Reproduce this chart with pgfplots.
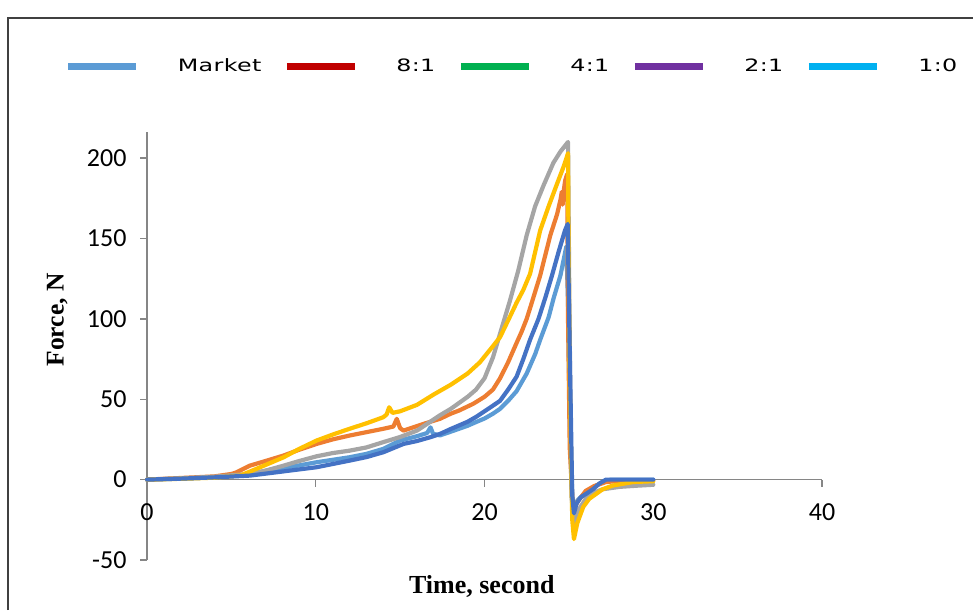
\documentclass[border=0pt]{standalone}
\usepackage{pgfplots}
\pgfplotsset{compat=1.18}
\usepackage{fontspec}
\setmainfont{Liberation Serif}
\newfontfamily\carlito{Carlito}
\newfontfamily\legfont[FakeStretch=1.4,LetterSpace=2]{DejaVu Sans}
\definecolor{cLB}{HTML}{5B9BD5}
\definecolor{cOR}{HTML}{ED7D31}
\definecolor{cGR}{HTML}{A5A5A5}
\definecolor{cYE}{HTML}{FFC000}
\definecolor{cDB}{HTML}{4472C4}
\definecolor{lRed}{HTML}{C00000}
\definecolor{lGreen}{HTML}{00B050}
\definecolor{lPurple}{HTML}{7030A0}
\definecolor{lCyan}{HTML}{00B0F0}
\definecolor{axgray}{HTML}{868686}
\begin{document}
\begin{tikzpicture}[x=1pt,y=1pt]
\path[use as bounding box] (0,0) rectangle (973,610);
\draw[line width=1.2pt, black!75] (8,0) -- (8,592) -- (973,592);
\begin{axis}[
  at={(147pt,50pt)}, anchor=south west,
  scale only axis, width=675pt, height=428pt,
  xmin=0, xmax=40, ymin=-50, ymax=216.2,
  axis x line=middle, axis y line=left,
  axis line style={-, line width=1.6pt, color=axgray},
  hide obscured x ticks=false, hide obscured y ticks=false,
  xtick={0,10,20,30,40}, ytick={-50,0,50,100,150,200},
  tick align=outside, major tick length=7pt,
  tick style={line width=1.4pt, color=axgray},
  /pgf/number format/assume math mode=true,
  tick label style={font=\carlito\fontsize{26}{30}\selectfont},
  xticklabel style={yshift=-13pt},
  yticklabel style={xshift=-10pt},
  clip=false,
  xlabel={\bfseries Time, second},
  xlabel style={at={(axis description cs:0.496,-0.063)}, anchor=center, font=\fontsize{26}{30}\selectfont},
  ylabel={\bfseries Force, N},
  ylabel style={at={(axis description cs:-0.133,0.561)}, anchor=center, font=\fontsize{25.5}{30}\selectfont},
  legend style={at={(axis description cs:-0.122,1.154)}, anchor=west, draw=none, fill=none,
    font=\legfont\fontsize{17}{20}\selectfont, inner sep=0pt,
    /tikz/every odd column/.append style={column sep=36pt},
    /tikz/every even column/.append style={column sep=20pt}},
  legend columns=5,
  legend image code/.code={\draw[#1, line cap=butt] (0pt,0pt) -- (68pt,0pt);},
  every axis plot/.append style={line width=4.2pt, line join=round, line cap=round},
]
\addlegendimage{cLB, line width=7pt}
\addlegendentry{Market}
\addlegendimage{lRed, line width=7pt}
\addlegendentry{8:1}
\addlegendimage{lGreen, line width=7pt}
\addlegendentry{4:1}
\addlegendimage{lPurple, line width=7pt}
\addlegendentry{2:1}
\addlegendimage{lCyan, line width=7pt}
\addlegendentry{1:0}

% Market (light blue)
\addplot[cLB, forget plot] coordinates {
(0,0) (2,0.6) (4,1.4) (6,3) (7.5,6.6) (9,8.8) (10.05,10.8) (12,13.9) (13,16) (14,19.1)
(15,24.3) (16,27) (16.6,29) (16.8,32.5) (16.95,28.5) (17.36,27.5) (18,29.8) (19,33.5)
(19.5,35.8) (20,38) (20.5,41) (20.92,44) (21.4,49) (21.9,55) (22.5,66) (23,78) (23.3,87)
(23.8,101) (24.1,113) (24.5,127) (24.85,145) (24.95,110) (25.05,40) (25.2,-10) (25.3,-18)
(25.5,-13) (26,-8) (26.5,-4.5) (27,-1.5) (27.5,0) (30,0)};
% 8:1 (orange)
\addplot[cOR, forget plot] coordinates {
(0,0) (2,1) (4,2) (5,3.5) (5.3,4.5) (6.1,8.7) (7,11.5) (8.1,15) (9,18.5) (10.05,22.2)
(11,25) (12,27.4) (13,29.5) (14,31.6) (14.6,33) (14.8,37.8) (15.0,32) (15.2,30.5) (16.4,34.7)
(17.36,37.8) (18,41) (18.5,43) (19.34,47.2) (20,51.5) (20.5,56) (20.92,63) (21.4,73)
(21.9,85) (22.2,92) (22.5,100) (22.8,110) (23.3,127) (23.9,152) (24.3,165) (24.5,174)
(24.58,179) (24.63,171) (24.7,180) (24.78,186) (24.9,190) (24.95,100) (25.05,20) (25.25,-20)
(25.5,-14) (26,-7) (26.5,-4) (27.2,-1.5) (28,-0.8) (30,-0.5)};
% 4:1 (gray)
\addplot[cGR, forget plot] coordinates {
(0,0) (2,0.8) (4,1.8) (6,3.5) (7,5.5) (8.1,8.7) (9,11.5) (10.05,14.5) (11,16.5) (12,18)
(13,20) (14,23.3) (15,26.5) (16,30.5) (17,37.5) (17.36,40) (18,44) (19,51.5) (19.5,56)
(20,63) (20.5,76) (21.1,97) (21.5,111) (22,130) (22.5,152) (23,170) (23.5,183) (24.08,197)
(24.5,204) (24.95,210) (25.02,120) (25.15,-10) (25.3,-27) (25.5,-20) (26,-12) (26.5,-8)
(27,-6) (28,-4.5) (29,-3.8) (30,-3.2)};
% 2:1 (yellow)
\addplot[cYE, forget plot] coordinates {
(0,0) (2,0.5) (4,1.2) (5.5,2.5) (6.1,5) (7,9) (8.1,13.9) (9,19) (10.05,24.3) (11,28)
(12,31.6) (13,35) (14,38.8) (14.2,40.5) (14.35,45) (14.55,41.5) (15,42.5) (16,46.5)
(17,53) (18,59) (19,66) (19.73,73) (20.5,83) (20.92,88.6) (21.4,99) (21.9,110) (22.3,118)
(22.7,128) (23.3,155) (23.8,170) (24.3,184) (24.7,195) (24.95,203) (24.97,160) (25.05,60)
(25.2,-25) (25.3,-37) (25.5,-27) (25.85,-17) (26.2,-12) (26.6,-9) (27,-6) (27.6,-3.7)
(28.8,-1.5) (30,-1)};
% 1:0 (dark blue)
\addplot[cDB, forget plot] coordinates {
(0,0) (2,0.6) (4,1.4) (6.1,2.5) (8,5) (10.05,7.7) (12,11.8) (13,14) (14,17) (15.2,22.2)
(16,24) (16.8,26.4) (17.36,28.4) (18,31.5) (19,36) (19.5,39) (20,42.5) (20.5,46)
(20.92,49) (21.4,56) (21.9,64) (22.3,75) (22.7,87) (23.2,100) (23.6,113) (24.0,127)
(24.4,142) (24.77,155) (24.93,159) (25.05,80) (25.2,-10) (25.3,-21) (25.45,-15) (25.7,-11)
(26,-9) (26.45,-5.8) (26.8,-2.5) (27.2,0) (28,0) (30,0)};
\end{axis}
\end{tikzpicture}
\end{document}
